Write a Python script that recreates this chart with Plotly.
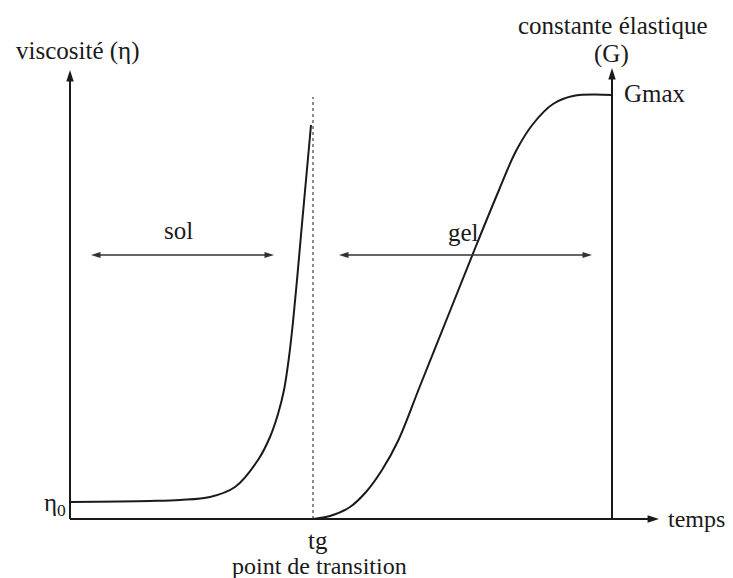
import plotly.graph_objects as go

# --- data (time in arbitrary units from origin, values in arbitrary units) ---
visc_t = [0, 80, 110, 140, 165, 188, 200, 208, 214, 219, 223, 227, 231, 236, 241]
visc_v = [17, 18, 19, 22, 32, 59, 82, 105, 129, 162, 197, 239, 284, 339, 394]

g_t = [243, 260, 280, 296, 312, 328, 350, 380, 406, 429, 446, 463, 483, 503, 542]
g_v = [0, 3, 12, 27, 49, 78, 133, 208, 273, 329, 368, 395, 415, 423, 424]

t_gel = 243          # gel point tg
t_end = 542          # right axis (G)
t_axis_max = 589     # time axis arrow tip
v_axis_max = 449     # viscosity axis arrow tip
g_axis_max = 451     # G axis arrow tip
dotted_top = 422
sol_range = [21, 204]
gel_range = [269, 522]
arrow_level = 264

FONT = "Liberation Serif"
BLACK = "#1a1a1a"

fig = go.Figure()

def line(x, y, width=2, color=BLACK, dash="solid", shape="linear"):
    fig.add_trace(go.Scatter(x=x, y=y, mode="lines",
                             line=dict(color=color, width=width, dash=dash, shape=shape,
                                       smoothing=1.0 if shape == "spline" else None),
                             hoverinfo="skip", showlegend=False))

def heads(x, y, angles, size=12, color=BLACK):
    fig.add_trace(go.Scatter(x=x, y=y, mode="markers",
                             marker=dict(symbol="arrow", size=size, angle=angles, color=color,
                                         line=dict(width=0)),
                             hoverinfo="skip", showlegend=False))

# curves
line(visc_t, visc_v, shape="spline")
line(g_t, g_v, shape="spline")
# dotted line at tg
line([t_gel, t_gel], [0, dotted_top], width=1, dash="dot")

# axes
line([0, 0], [0, v_axis_max - 6])
heads([0], [v_axis_max], [0])
line([0, t_axis_max - 6], [0, 0])
heads([t_axis_max], [0], [90])
line([t_end, t_end], [0, g_axis_max - 6])
heads([t_end], [g_axis_max], [0])

# sol / gel ranges
GREY = "#333333"
for rng in (sol_range, gel_range):
    line([rng[0] + 4, rng[1] - 4], [arrow_level, arrow_level], width=1.5, color=GREY)
    heads([rng[0], rng[1]], [arrow_level, arrow_level], [-90, 90], size=10, color=GREY)

annotations = []

def label(text, x, y, xanchor="center", yanchor="middle", size=25):
    annotations.append(dict(x=x, y=y, xref="x", yref="y", text=text, showarrow=False,
                            xanchor=xanchor, yanchor=yanchor, borderpad=0,
                            font=dict(family=FONT, size=size, color=BLACK)))

label("viscosité (η)", 7, 468)
label("constante élastique", 543, 494)
label("(G)", 541, 465)
label("Gmax", 553, 426, xanchor="left")
label("sol", 108, 289)
label("gel", 393, 287)
label("η<sub>0</sub>", -3, 15, xanchor="right")
label("tg", 248, -21)
label("point de transition", 249, -47, size=24)
label("temps", 597, 0, xanchor="left", size=24)

# the page body adds an 8px offset, so the figure covers the window from (8, 8)
fig.update_layout(
    width=725, height=570,
    margin=dict(l=0, r=0, t=0, b=0),
    paper_bgcolor="white", plot_bgcolor="white",
    font=dict(family=FONT, color=BLACK),
    xaxis=dict(range=[-62, 663], visible=False, fixedrange=True),
    yaxis=dict(range=[-59, 511], visible=False, fixedrange=True),
    annotations=annotations,
    showlegend=False,
)

fig.write_html("out.html")
